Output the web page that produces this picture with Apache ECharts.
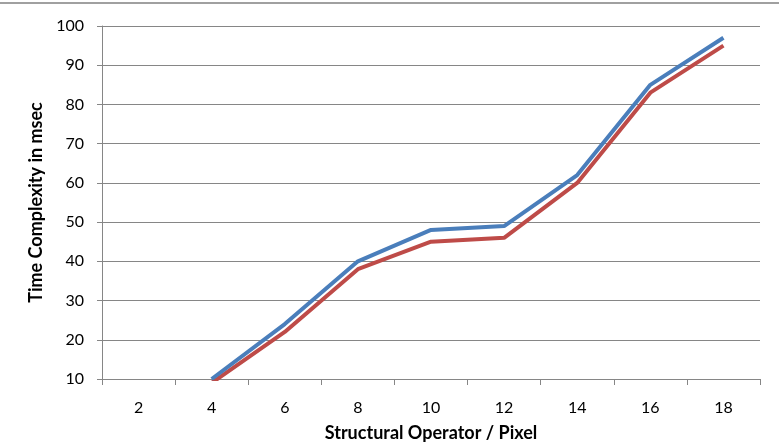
<!DOCTYPE html>
<html>
<head>
<meta charset="utf-8">
<script src="https://cdn.jsdelivr.net/npm/echarts@6/dist/echarts.min.js"></script>
<style>
  html, body { margin: 0; padding: 0; background: #fff; }
</style>
</head>
<body>
<div id="chart" style="width: 779px; height: 444px;"></div>
<script>
const categories = ['2', '4', '6', '8', '10', '12', '14', '16', '18']
const blueValues = [null, 10, 24, 40, 48, 49, 62, 85, 97]
const redValues = [null, 9, 22, 38, 45, 46, 60, 83, 95]

const chart = echarts.init(document.getElementById('chart'))
const fontFamily = 'Lato, "Open Sans", sans-serif'

const options = {
  animation: false,
  graphic: [{
    type: 'line',
    shape: { x1: 0, y1: 3, x2: 779, y2: 3 },
    style: { stroke: '#a0a0a0', lineWidth: 2 }
  }],
  grid: {
    left: 102,
    right: 19,
    top: 26,
    bottom: 65,
    outerBoundsMode: 'none',
    containLabel: false
  },
  xAxis: {
    type: 'category',
    data: categories,
    boundaryGap: true,
    name: 'Structural Operator / Pixel',
    nameLocation: 'middle',
    nameGap: 45,
    nameTextStyle: { fontFamily, fontSize: 18, fontWeight: 'bold', color: '#000' },
    axisLine: { lineStyle: { color: '#868686', width: 1 } },
    axisTick: { show: true, length: 6, lineStyle: { color: '#868686' } },
    axisLabel: { fontFamily, fontSize: 16, color: '#000', margin: 21 },
    splitLine: { show: false }
  },
  yAxis: {
    type: 'value',
    min: 10,
    max: 100,
    interval: 10,
    name: 'Time Complexity in msec',
    nameLocation: 'middle',
    nameGap: 56,
    nameTextStyle: { fontFamily, fontSize: 18, fontWeight: 'bold', color: '#000' },
    axisLine: { show: true, lineStyle: { color: '#868686', width: 1 } },
    axisTick: { show: true, length: 5, lineStyle: { color: '#868686' } },
    axisLabel: { fontFamily, fontSize: 16, color: '#000', margin: 18 },
    splitLine: { show: true, lineStyle: { color: '#868686', width: 1 } }
  },
  series: [{
    name: 'Blue',
    type: 'line',
    data: blueValues,
    symbol: 'none',
    clip: true,
    lineStyle: { color: '#4A7EBB', width: 4 },
    itemStyle: { color: '#4A7EBB' }
  }, {
    name: 'Red',
    type: 'line',
    data: redValues,
    symbol: 'none',
    clip: true,
    z: 1,
    lineStyle: { color: '#BE4B48', width: 4 },
    itemStyle: { color: '#BE4B48' }
  }]
}
chart.setOption(options)
</script>
</body>
</html>
